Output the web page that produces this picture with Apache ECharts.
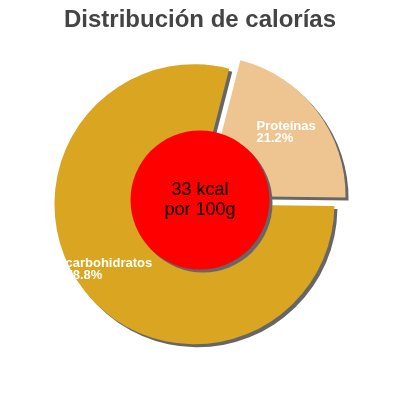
<!DOCTYPE html>
<html>
<head>
<meta charset="utf-8">
<script src="https://cdn.jsdelivr.net/npm/echarts@6/dist/echarts.min.js"></script>
<style>
    html, body { margin: 0; padding: 0; background: #ffffff; }
    #chart { width: 400px; height: 400px; }
</style>
</head>
<body>
<div id="chart"></div>
<script>
// values
const categories = ['Proteínas', 'carbohidratos'];
const percents = [21.2, 78.8];
const sliceColors = ['#EEC591', '#DAA520'];
const energyKcal = [33];
const titleText = 'Distribución de calorías';

const fontFamily = 'Liberation Sans, Arial, sans-serif';
const shadowColor = '#666666';

// label nudges (dx, dy) from the default inside point
const labelShift = [[-7, -19], [-71, 21]];

const pieData = categories.map(function (name, i) {
    return {
        name: name,
        value: percents[i],
        selected: true,
        itemStyle: { color: sliceColors[i] }
    };
});

const chart = echarts.init(document.getElementById('chart'), null, { renderer: 'canvas' });

chart.setOption({
    animation: false,
    title: {
        text: titleText,
        left: 'center',
        top: 3,
        textStyle: {
            fontFamily: fontFamily,
            fontSize: 24,
            fontWeight: 'bold',
            color: '#444444'
        }
    },
    series: [
        {
            type: 'pie',
            center: [200, 200],
            radius: [0, 140],
            startAngle: 75.6,
            clockwise: true,
            selectedMode: 'multiple',
            selectedOffset: 7,
            silent: true,
            emphasis: { disabled: true },
            itemStyle: {
                shadowColor: shadowColor,
                shadowBlur: 0,
                shadowOffsetX: 3,
                shadowOffsetY: 3
            },
            label: {
                show: true,
                position: 'inside',
                align: 'left',
                color: '#ffffff',
                fontFamily: fontFamily,
                fontSize: 13,
                fontWeight: 'bold',
                lineHeight: 12,
                formatter: function (p) {
                    return p.name + '\n' + p.value.toFixed(1) + '%';
                }
            },
            labelLine: { show: false },
            labelLayout: function (params) {
                const s = labelShift[params.dataIndex];
                return { dx: s[0], dy: s[1], align: 'left' };
            },
            data: pieData
        },
        {
            type: 'pie',
            center: [200, 200],
            radius: [0, 69.5],
            silent: true,
            emphasis: { disabled: true },
            itemStyle: {
                color: '#ff0000',
                shadowColor: shadowColor,
                shadowBlur: 0,
                shadowOffsetX: 3,
                shadowOffsetY: 3
            },
            label: {
                show: true,
                position: 'center',
                color: '#000000',
                fontFamily: fontFamily,
                fontSize: 18,
                lineHeight: 20,
                formatter: function (p) {
                    return p.value + ' kcal\npor 100g';
                }
            },
            labelLine: { show: false },
            data: energyKcal.map(function (v) { return { name: 'kcal', value: v }; })
        }
    ]
});

window.addEventListener('resize', function () {
    chart.resize();
});
</script>
</body>
</html>
